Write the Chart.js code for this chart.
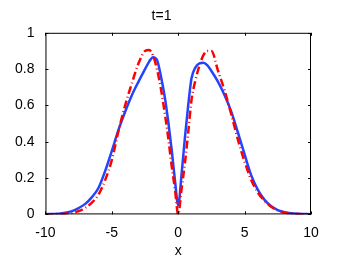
<!DOCTYPE html>
<html>
<head>
<meta charset="utf-8">
<script src="https://cdn.jsdelivr.net/npm/chart.js@4"></script>
<style>
  html, body { margin: 0; padding: 0; background: #fff; }
  #wrap { position: relative; width: 343px; height: 262px; }
</style>
</head>
<body>
<div id="wrap"><canvas id="chart"></canvas></div>
<script>
// x positions
const xValues = [-10, -9, -8.5, -8, -7.5, -7, -6.5, -6, -5.5, -5, -4.5, -4, -3.5, -3, -2.5, -2.2, -1.9, -1.6, -1.3, -1,
  -0.75, -0.5, -0.25, 0, 0.25, 0.5, 0.75, 1, 1.3, 1.6, 1.9, 2.2, 2.5, 3, 3.5, 4, 4.5, 5, 5.5, 6, 6.5, 7, 7.5, 8, 8.5, 9, 10];

// solid blue curve
const blueValues = [0.001, 0.004, 0.009, 0.018, 0.035, 0.058, 0.095, 0.147, 0.24, 0.35, 0.465, 0.565, 0.655, 0.73, 0.80, 0.84, 0.866, 0.85, 0.76, 0.64,
  0.51, 0.36, 0.19, 0.05, 0.22, 0.42, 0.60, 0.75, 0.81, 0.832, 0.835, 0.82, 0.79, 0.73, 0.655, 0.565, 0.45, 0.33, 0.215, 0.135, 0.08, 0.045, 0.024, 0.012, 0.006, 0.003, 0.001];

// red dash-dot curve
const redValues = [0.0005, 0.002, 0.004, 0.008, 0.018, 0.036, 0.065, 0.11, 0.19, 0.30, 0.46, 0.60, 0.72, 0.83, 0.90, 0.905, 0.875, 0.80, 0.69, 0.55,
  0.42, 0.27, 0.14, 0.0, 0.14, 0.28, 0.45, 0.63, 0.74, 0.82, 0.877, 0.90, 0.90, 0.79, 0.68, 0.55, 0.41, 0.29, 0.19, 0.12, 0.075, 0.042, 0.022, 0.011, 0.005, 0.002, 0.0005];

const xTicks = [-10, -5, 0, 5, 10];
const yTicks = [0, 0.2, 0.4, 0.6, 0.8, 1];
const chartTitle = 't=1';
const xLabel = 'x';

const fontFamily = '"Liberation Sans Narrow", "Liberation Sans", Arial, sans-serif';

const toPoints = (ys) => xValues.map((x, i) => ({ x: x, y: ys[i] }));

// matlab-like box with inward ticks
const boxPlugin = {
  id: 'box',
  afterDraw(chart) {
    const { ctx, chartArea: a, scales } = chart;
    ctx.save();
    ctx.strokeStyle = '#000';
    ctx.lineWidth = 1;
    ctx.strokeRect(a.left + 0.5, a.top + 0.5, a.right - a.left - 1, a.bottom - a.top - 1);
    ctx.beginPath();
    xTicks.forEach(v => {
      const px = Math.round(scales.x.getPixelForValue(v)) + 0.5;
      ctx.moveTo(px, a.bottom); ctx.lineTo(px, a.bottom - 3);
      ctx.moveTo(px, a.top); ctx.lineTo(px, a.top + 3);
    });
    yTicks.forEach(v => {
      const py = Math.round(scales.y.getPixelForValue(v)) + 0.5;
      ctx.moveTo(a.left, py); ctx.lineTo(a.left + 3, py);
      ctx.moveTo(a.right, py); ctx.lineTo(a.right - 3, py);
    });
    ctx.stroke();
    ctx.restore();
  }
};

new Chart(document.getElementById('chart'), {
  type: 'scatter',
  data: {
    datasets: [
      {
        label: 'red',
        data: toPoints(redValues),
        showLine: true,
        borderColor: '#ff0000',
        borderWidth: 2.5,
        borderDash: [8, 3, 1, 3],
        pointRadius: 0,
        cubicInterpolationMode: 'monotone'
      },
      {
        label: 'blue',
        data: toPoints(blueValues),
        showLine: true,
        borderColor: '#2244ff',
        borderWidth: 2.5,
        pointRadius: 0,
        cubicInterpolationMode: 'monotone'
      }
    ]
  },
  options: {
    responsive: true,
    maintainAspectRatio: false,
    animation: false,
    layout: { padding: { left: 12, right: 32, top: 0, bottom: 0 } },
    plugins: {
      legend: { display: false },
      tooltip: { enabled: false },
      title: {
        display: true,
        text: chartTitle,
        color: '#000',
        font: { family: fontFamily, size: 14, weight: 'normal' },
        padding: { top: 8, bottom: 8 }
      }
    },
    scales: {
      x: {
        type: 'linear',
        min: -10,
        max: 10,
        afterBuildTicks: (scale) => { scale.ticks = xTicks.map(v => ({ value: v })); },
        grid: { display: false },
        border: { display: false },
        ticks: {
          color: '#000',
          font: { family: fontFamily, size: 14 },
          padding: 2,
          maxRotation: 0,
          callback: (v) => String(v)
        },
        title: {
          display: true,
          text: xLabel,
          color: '#000',
          font: { family: fontFamily, size: 14 },
          padding: { top: 0, bottom: 2 }
        }
      },
      y: {
        type: 'linear',
        min: 0,
        max: 1,
        afterBuildTicks: (scale) => { scale.ticks = yTicks.map(v => ({ value: v })); },
        grid: { display: false },
        border: { display: false },
        ticks: {
          color: '#000',
          font: { family: fontFamily, size: 14 },
          padding: 3,
          callback: (v) => String(v)
        }
      }
    }
  },
  plugins: [boxPlugin]
});
</script>
</body>
</html>
